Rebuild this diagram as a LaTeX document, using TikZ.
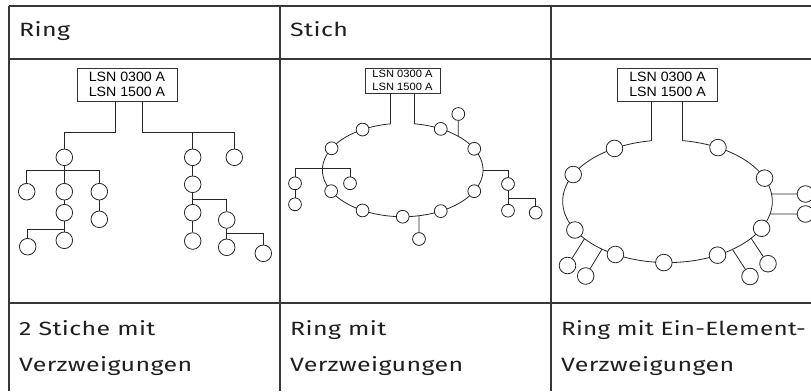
\documentclass[tikz,border=0pt]{standalone}
\usepackage{fontspec}
\setmainfont{Fira Sans}
\newfontfamily\tblfont[FakeStretch=1.3,LetterSpace=2]{Fira Sans}
\newfontfamily\tblnarrow[FakeStretch=1.26,LetterSpace=1.5]{Fira Sans}
\newfontfamily\diagfont[FakeStretch=1.05]{Liberation Sans}
\usetikzlibrary{calc}
\begin{document}
\begin{tikzpicture}[x=1pt,y=-1pt,
  tbl/.style={draw=black!78, line width=1.1pt},
  lbl/.style={anchor=base west, inner sep=0pt, font=\tblfont\fontsize{19.2}{22}\selectfont, text=black!88},
  bigbox/.style={draw=black!80, line width=0.8pt, minimum width=100pt, minimum height=33pt, inner sep=0pt, align=center, font=\diagfont\fontsize{13.5}{15.7}\selectfont},
  smallbox/.style={draw=black!80, line width=0.8pt, minimum width=75pt, minimum height=25pt, inner sep=0pt, align=center, font=\diagfont\fontsize{10.6}{13.3}\selectfont},
  bn/.style={circle, draw=black!85, fill=white, line width=0.8pt, minimum size=16.6pt, inner sep=0pt},
  sn/.style={bn, minimum size=12.8pt},
  wire/.style={draw=black!85, line width=0.8pt},
]
\useasboundingbox (0,0) rectangle (811,391);
\clip (0,0) rectangle (811,391);

% table grid
\draw[tbl] (9,6) -- (811,6);
\draw[tbl] (9,59) -- (811,59);
\draw[tbl] (9,303) -- (811,303);
\draw[tbl] (9,6) -- (9,391);
\draw[tbl] (280,6) -- (280,391);
\draw[tbl] (551,6) -- (551,391);

% labels
\node[lbl] (h1) at (19,36.7) {Ring};
\node[lbl] (h2) at (290,36.7) {Stich};
\node[lbl] (f1a) at (19,335) {2 Stiche mit};
\node[lbl] (f1b) at (19,371) {Verzweigungen};
\node[lbl] (f2a) at (290,335) {Ring mit};
\node[lbl] (f2b) at (290,371) {Verzweigungen};
\node[lbl, font=\tblnarrow\fontsize{19.2}{22}\selectfont] (f3a) at (561,335) {Ring mit Ein-Element-};
\node[lbl] (f3b) at (561,371) {Verzweigungen};

% ---------------- panel 1 ----------------
\node[bigbox] (b1) at (127,84.5) {LSN 0300 A\\LSN 1500 A};
\node[bn] (a1) at (64.3,157.3) {};
\node[bn] (a2) at (26.7,191.7) {};
\node[bn] (a3) at (64.3,191.7) {};
\node[bn] (a4) at (99.3,191.7) {};
\node[bn] (a5) at (64.3,212.7) {};
\node[bn] (a6) at (99.3,219.3) {};
\node[bn] (a7) at (27.7,246.7) {};
\node[bn] (a8) at (64.3,240.3) {};
\node[bn] (r1) at (192.7,157.3) {};
\node[bn] (r2) at (234.3,157.3) {};
\node[bn] (r3) at (192.7,184.3) {};
\node[bn] (r4) at (192.7,212.7) {};
\node[bn] (r5) at (226.7,220) {};
\node[bn] (r6) at (192.7,241) {};
\node[bn] (r7) at (226.7,247.3) {};
\node[bn] (r8) at (263.3,253.3) {};
\coordinate (jt1) at (115,132.7);
\coordinate (jt2) at (142.7,132.7);
\coordinate (ja) at (64.3,170.7);
\coordinate (jb) at (64.3,229.3);
\coordinate (jc) at (192.7,199.3);
\coordinate (jd) at (226.7,233.3);
\draw[wire] (b1.south -| jt1) -- (jt1) -| (a1);
\draw[wire] (b1.south -| jt2) -- (jt2) -| (r2);
\draw[wire] (r1) -- (r1 |- jt2);
\draw[wire] (a1) -- (a3);
\draw[wire] (a2) |- (ja) -| (a4);
\draw[wire] (a3) -- (a5);
\draw[wire] (a4) -- (a6);
\draw[wire] (a5) -- (a8);
\draw[wire] (a7) |- (jb);
\draw[wire] (r1) -- (r3);
\draw[wire] (r3) -- (r4);
\draw[wire] (r5) |- (jc);
\draw[wire] (r4) -- (r6);
\draw[wire] (r5) -- (r7);
\draw[wire] (r8) |- (jd);

% ---------------- panel 2 ----------------
\coordinate (O2) at (402.7,170);
\node[smallbox] (b2) at (402.5,80.5) {LSN 0300 A\\LSN 1500 A};
\draw[wire] plot[domain=278.1:621.4, samples=180] ({402.7+80.3*cos(\x)},{170+46.7*sin(\x)});
\coordinate (t2l) at ($(O2)+(261.4:80.3 and 46.7)$);
\coordinate (t2r) at ($(O2)+(278.1:80.3 and 46.7)$);
\draw[wire] (b2.south -| t2l) -- (t2l);
\draw[wire] (b2.south -| t2r) -- (t2r);
\foreach \a/\n in {240/p1, 207.7/p2, 153/p3, 120/p4, 90/p5, 61.7/p6, 27/p7, 333/p8, 298.3/p9}
  \node[sn] (\n) at ($(O2)+(\a:80.3 and 46.7)$) {};
\node[sn] (q1) at (458.3,114) {};
\coordinate (e21) at ($(O2)+(313.8:80.3 and 46.7)$);
\draw[wire] (e21) -- (q1);
\node[sn] (q2) at (295,183.3) {};
\node[sn] (q3) at (350,183.3) {};
\node[sn] (q4) at (295,204.3) {};
\coordinate (e22) at (322.4,168.3);
\draw[wire] (q2) |- (e22) -| (q3);
\draw[wire] (q2) -- (q4);
\coordinate (e23) at ($(O2)+(0:80.3 and 46.7)$);
\node[sn] (q5) at (508,184) {};
\node[sn] (q6) at (508,210.7) {};
\node[sn] (q7) at (535.7,212.7) {};
\coordinate (e24) at (508,198.3);
\draw[wire] (e23) -| (q5);
\draw[wire] (q5) -- (q6);
\draw[wire] (q7) |- (e24);
\coordinate (e25) at ($(O2)+(78.3:80.3 and 46.7)$);
\node[sn] (q8) at (419,239) {};
\draw[wire] (e25) -- (q8);

% ---------------- panel 3 ----------------
\coordinate (O3) at (667.5,201.3);
\node[bigbox] (b3) at (667.5,84.5) {LSN 0300 A\\LSN 1500 A};
\draw[wire] plot[domain=278.3:621, samples=200] ({667.5+104.8*cos(\x)},{201.3+61.3*sin(\x)});
\coordinate (t3l) at ($(O3)+(261:104.8 and 61.3)$);
\coordinate (t3r) at ($(O3)+(278.3:104.8 and 61.3)$);
\draw[wire] (b3.south -| t3l) -- (t3l);
\draw[wire] (b3.south -| t3r) -- (t3r);
\foreach \a/\n in {239.6/k1, 205.9/k2, 152.1/k3, 119.8/k4, 92/k5, 61.5/k6, 26.1/k7, 337.8/k8, 298.8/k9}
  \node[bn] (\n) at ($(O3)+(\a:104.8 and 61.3)$) {};
\node[bn] (s1) at (805.5,194) {};
\node[bn] (s2) at (805.5,214) {};
\coordinate (g1) at ($(O3)+(-6.8:104.8 and 61.3)$);
\coordinate (g2) at ($(O3)+(12:104.8 and 61.3)$);
\draw[wire] (g1) -- (s1);
\draw[wire] (g2) -- (s2);
\node[bn] (u1) at (567.5,265.5) {};
\node[bn] (u2) at (585.7,276) {};
\node[bn] (u3) at (750,276.5) {};
\node[bn] (u4) at (768,263.7) {};
\coordinate (g3) at ($(O3)+(142.4:104.8 and 61.3)$);
\coordinate (g4) at ($(O3)+(128.7:104.8 and 61.3)$);
\coordinate (g5) at ($(O3)+(51.7:104.8 and 61.3)$);
\coordinate (g6) at ($(O3)+(37.1:104.8 and 61.3)$);
\draw[wire] (g3) -- (u1);
\draw[wire] (g4) -- (u2);
\draw[wire] (g5) -- (u3);
\draw[wire] (g6) -- (u4);
\end{tikzpicture}
\end{document}
